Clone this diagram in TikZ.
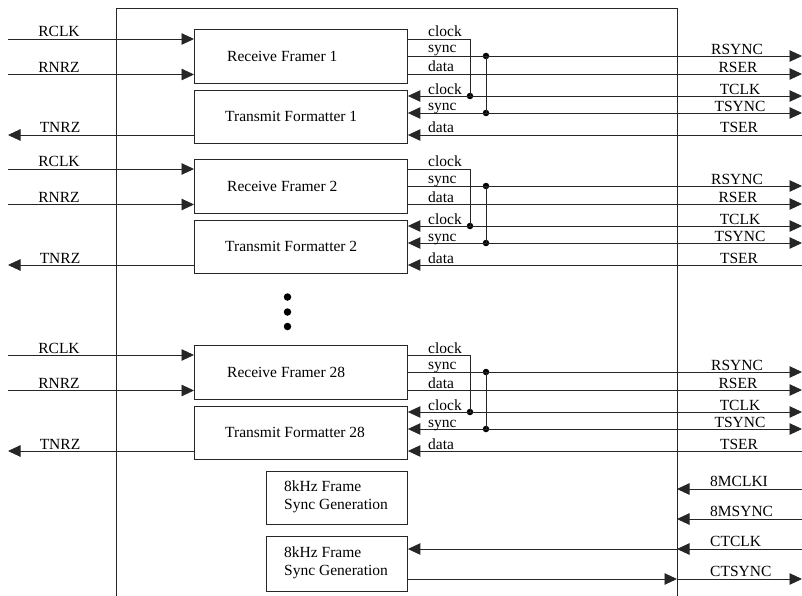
\documentclass[tikz,border=0pt]{standalone}
\usepackage{fontspec}
\setmainfont{Liberation Serif}
\usetikzlibrary{arrows.meta}
\begin{document}
\begin{tikzpicture}[x=1pt,y=-1pt,
  ln/.style={line width=0.9pt, draw=black!85},
  arr/.style={ln, -{Triangle[length=12.5pt,width=11.5pt]}},
  barr/.style={ln, {Triangle[length=12.5pt,width=11.5pt]}-{Triangle[length=12.5pt,width=11.5pt]}},
  blk/.style={draw=black!85, line width=0.9pt, anchor=north west, inner sep=0pt},
  txt/.style={font=\fontsize{15.5}{18}\selectfont, inner sep=0pt},
  jdot/.style={circle, fill=black, inner sep=0pt, minimum size=6.5pt},
  vdot/.style={circle, fill=black, inner sep=0pt, minimum size=7.5pt},
]
\useasboundingbox (0,0) rectangle (802,596);

% outer frame
\coordinate (fbl) at (116,600);
\coordinate (ftl) at (116,8);
\coordinate (ftr) at (677,8);
\coordinate (fbr) at (677,600);
\draw[ln] (fbl) -- (ftl) -- (ftr) -- (fbr);

\foreach \n/\dy in {1/0, 2/130, 28/316} {
  \node[blk, minimum width=213pt, minimum height=54pt] (rf\n) at (194,29+\dy) {};
  \node[blk, minimum width=213pt, minimum height=53pt] (tf\n) at (194,90+\dy) {};
  \node[txt, anchor=west] at (227,56+\dy) {Receive Framer \n};
  \node[txt, anchor=west] at (225,116.5+\dy) {Transmit Formatter \n};
  % left side
  \coordinate (rclk\n) at (8,39+\dy);
  \coordinate (rnrz\n) at (8,74.5+\dy);
  \coordinate (tnrz\n) at (8,135+\dy);
  \draw[arr] (rclk\n) -- (rf\n.west |- rclk\n);
  \draw[arr] (rnrz\n) -- (rf\n.west |- rnrz\n);
  \draw[arr] (tf\n.west |- tnrz\n) -- (tnrz\n);
  \node[txt, anchor=base] at (59,37+\dy) {RCLK};
  \node[txt, anchor=base] at (59,72.5+\dy) {RNRZ};
  \node[txt, anchor=base] at (60,133+\dy) {TNRZ};
  % right side
  \coordinate (clk\n) at (407,39+\dy);
  \coordinate (rsync\n) at (802,56+\dy);
  \coordinate (rser\n) at (802,74+\dy);
  \coordinate (tclk\n) at (802,96+\dy);
  \coordinate (tsync\n) at (802,113+\dy);
  \coordinate (tser\n) at (802,135+\dy);
  \node[jdot] (jc\n) at (470,96+\dy) {};
  \node[jdot] (js\n) at (486,56+\dy) {};
  \node[jdot] (jt\n) at (486,113+\dy) {};
  \draw[ln] (clk\n) -| (jc\n.center);
  \draw[ln] (js\n.center) -- (jt\n.center);
  \draw[arr] (rf\n.east |- rsync\n) -- (rsync\n);
  \draw[arr] (rf\n.east |- rser\n) -- (rser\n);
  \draw[barr] (tclk\n) -- (tf\n.east |- tclk\n);
  \draw[barr] (tsync\n) -- (tf\n.east |- tsync\n);
  \draw[arr] (tser\n) -- (tf\n.east |- tser\n);
  \node[txt, anchor=base west] at (428,37+\dy) {clock};
  \node[txt, anchor=base west] at (428,53+\dy) {sync};
  \node[txt, anchor=base west] at (428,72+\dy) {data};
  \node[txt, anchor=base west] at (428,94.5+\dy) {clock};
  \node[txt, anchor=base west] at (428,111+\dy) {sync};
  \node[txt, anchor=base west] at (428,133+\dy) {data};
  \node[txt, anchor=base] at (737,54.5+\dy) {RSYNC};
  \node[txt, anchor=base] at (738,72.5+\dy) {RSER};
  \node[txt, anchor=base] at (740,94.5+\dy) {TCLK};
  \node[txt, anchor=base] at (740,111.5+\dy) {TSYNC};
  \node[txt, anchor=base] at (739,133+\dy) {TSER};
}

% vertical ellipsis
\node[vdot] (d1) at (287.5,297) {};
\node[vdot] (d2) at (287.5,312) {};
\node[vdot] (d3) at (287.5,326.5) {};

% frame sync generators
\node[blk, minimum width=141pt, minimum height=53pt] (gen1) at (266,471) {};
\node[txt, anchor=west, align=left] at (284,497) {8kHz Frame\\Sync Generation};
\node[blk, minimum width=141pt, minimum height=55pt] (gen2) at (266,536) {};
\node[txt, anchor=west, align=left] at (284,563) {8kHz Frame\\Sync Generation};

\coordinate (mclk) at (802,489);
\coordinate (mclkf) at (677,489);
\coordinate (msync) at (802,519);
\coordinate (msyncf) at (677,519);
\coordinate (ctclk) at (802,549);
\coordinate (ctclkf) at (677,549);
\coordinate (ctsync) at (802,579);
\coordinate (ctsyncf) at (677,579);
\draw[arr] (mclk) -- (mclkf);
\draw[arr] (msync) -- (msyncf);
\draw[arr] (ctclk) -- (ctclkf);
\draw[arr] (ctclkf) -- (gen2.east |- ctclkf);
\draw[arr] (gen2.east |- ctsyncf) -- (ctsyncf);
\draw[arr] (ctsyncf) -- (ctsync);
\node[txt, anchor=base west] at (710,486.5) {8MCLKI};
\node[txt, anchor=base west] at (710,516.5) {8MSYNC};
\node[txt, anchor=base west] at (710,546.5) {CTCLK};
\node[txt, anchor=base west] at (710,576.5) {CTSYNC};
\end{tikzpicture}
\end{document}
